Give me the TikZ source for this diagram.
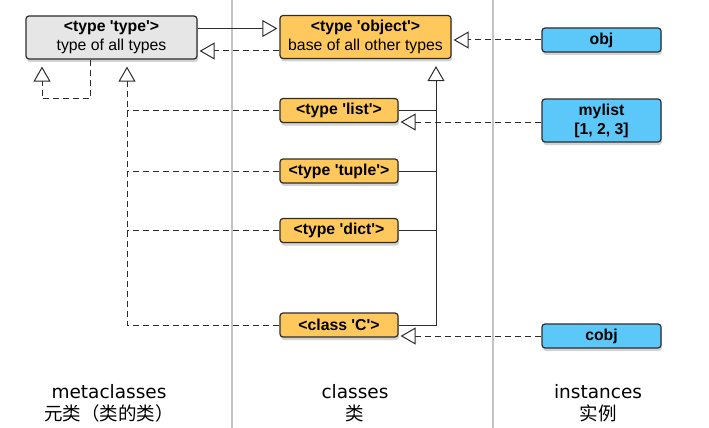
\documentclass[tikz,border=0pt]{standalone}
\usepackage{fontspec}
\setmainfont{Liberation Sans}
\newfontfamily\latinlabel{DejaVu Sans}
\newfontfamily\cjklabel{Noto Sans CJK SC}
\usepackage{tikz}
\usetikzlibrary{arrows.meta,shadows}

\definecolor{metagray}{RGB}{230,230,230}
\definecolor{classorange}{RGB}{255,200,92}
\definecolor{instblue}{RGB}{92,200,250}
\definecolor{edgedark}{RGB}{45,45,45}
\definecolor{sepgray}{RGB}{195,195,195}

\newcommand{\q}{\textquotesingle}

\tikzset{
  box/.style={draw=edgedark, line width=1.2pt, rounded corners=3pt, align=center,
    inner sep=0pt, font=\fontsize{15.8}{19}\selectfont,
    drop shadow={opacity=0.35, shadow xshift=1pt, shadow yshift=-3pt}},
  metabox/.style={box, fill=metagray, minimum width=171pt, minimum height=43pt},
  classbox/.style={box, fill=classorange, minimum width=118pt, minimum height=24pt},
  instbox/.style={box, fill=instblue, minimum width=119pt, minimum height=24pt},
  isa/.style={edgedark, line width=1pt, shorten >=2pt,
    -{Triangle[open, length=15pt, width=17pt, fill=white, line width=1pt]}},
  instof/.style={isa, dash pattern=on 6pt off 4pt},
  instline/.style={edgedark, line width=1pt, dash pattern=on 6pt off 4pt},
  coltext/.style={anchor=north, align=center, font=\fontsize{18.5}{22}\selectfont}
}

\begin{document}
\begin{tikzpicture}[x=1pt,y=-1pt]
\useasboundingbox (0,0) rectangle (709,428);

% Column separators
\draw[sepgray, line width=2.5pt] (232,0) -- (232,428);
\draw[sepgray, line width=2.5pt] (493,0) -- (493,428);

% Metaclass
\node[metabox] (type) at (111.5,37.5) {\textbf{<type \q type\q>}\\type of all types};

% Classes
\node[metabox, fill=classorange] (object) at (365.5,37) {\textbf{<type \q object\q>}\\base of all other types};
\node[classbox] (list) at (339,110.5) {\textbf{<type \q list\q>}};
\node[classbox] (tuple) at (339,171) {\textbf{<type \q tuple\q>}};
\node[classbox] (dict) at (339,230.5) {\textbf{<type \q dict\q>}};
\node[classbox] (classc) at (339,325) {\textbf{<class \q C\q>}};

% Instances
\node[instbox] (obj) at (601.5,40) {\textbf{obj}};
\node[instbox, minimum height=43pt] (mylist) at (601.5,120.5) {\textbf{mylist}\\\textbf{[1, 2, 3]}};
\node[instbox] (cobj) at (601.5,336) {\textbf{cobj}};

% Buses
\coordinate (classbus) at (436,0);
\coordinate (metabus) at (127,0);

% type <-> object
\draw[isa] ([yshift=9pt]type.east) -- ([yshift=9pt]type.east -| object.west);
\draw[instof] ([yshift=-14pt]object.west) -- ([yshift=-14pt]object.west -| type.east);
\draw[instof, shorten >=7pt] ([xshift=-21.5pt]type.south) -- ++(0,39) -| ([xshift=-69.5pt]type.south);

% Subclasses of object
\draw[isa, shorten >=7pt] (classc.east) -- (classc.east -| classbus) -- (classbus |- object.south);
\draw[edgedark, line width=1pt] (list.east) -- (list.east -| classbus);
\draw[edgedark, line width=1pt] (tuple.east) -- (tuple.east -| classbus);
\draw[edgedark, line width=1pt] (dict.east) -- (dict.east -| classbus);

% Classes are instances of type
\draw[instof, shorten >=7pt] (classc.west) -- (classc.west -| metabus) -- (metabus |- type.south);
\draw[instline] (list.west) -- (list.west -| metabus);
\draw[instline] (tuple.west) -- (tuple.west -| metabus);
\draw[instline] (dict.west) -- (dict.west -| metabus);

% Instances of classes
\draw[instof] (obj.west) -- (obj.west -| object.east);
\draw[instof] ([yshift=-1.5pt]mylist.west) -- ([yshift=-1.5pt]mylist.west -| list.east);
\draw[instof] (cobj.west) -- (cobj.west -| classc.east);

% Column labels
\node[coltext] (metalabel) at (109,381) {{\latinlabel metaclasses}\\{\cjklabel 元类（类的类）}};
\node[coltext] (classlabel) at (355,381) {{\latinlabel classes}\\{\cjklabel 类}};
\node[coltext] (instlabel) at (598,381) {{\latinlabel instances}\\{\cjklabel 实例}};
\end{tikzpicture}
\end{document}
